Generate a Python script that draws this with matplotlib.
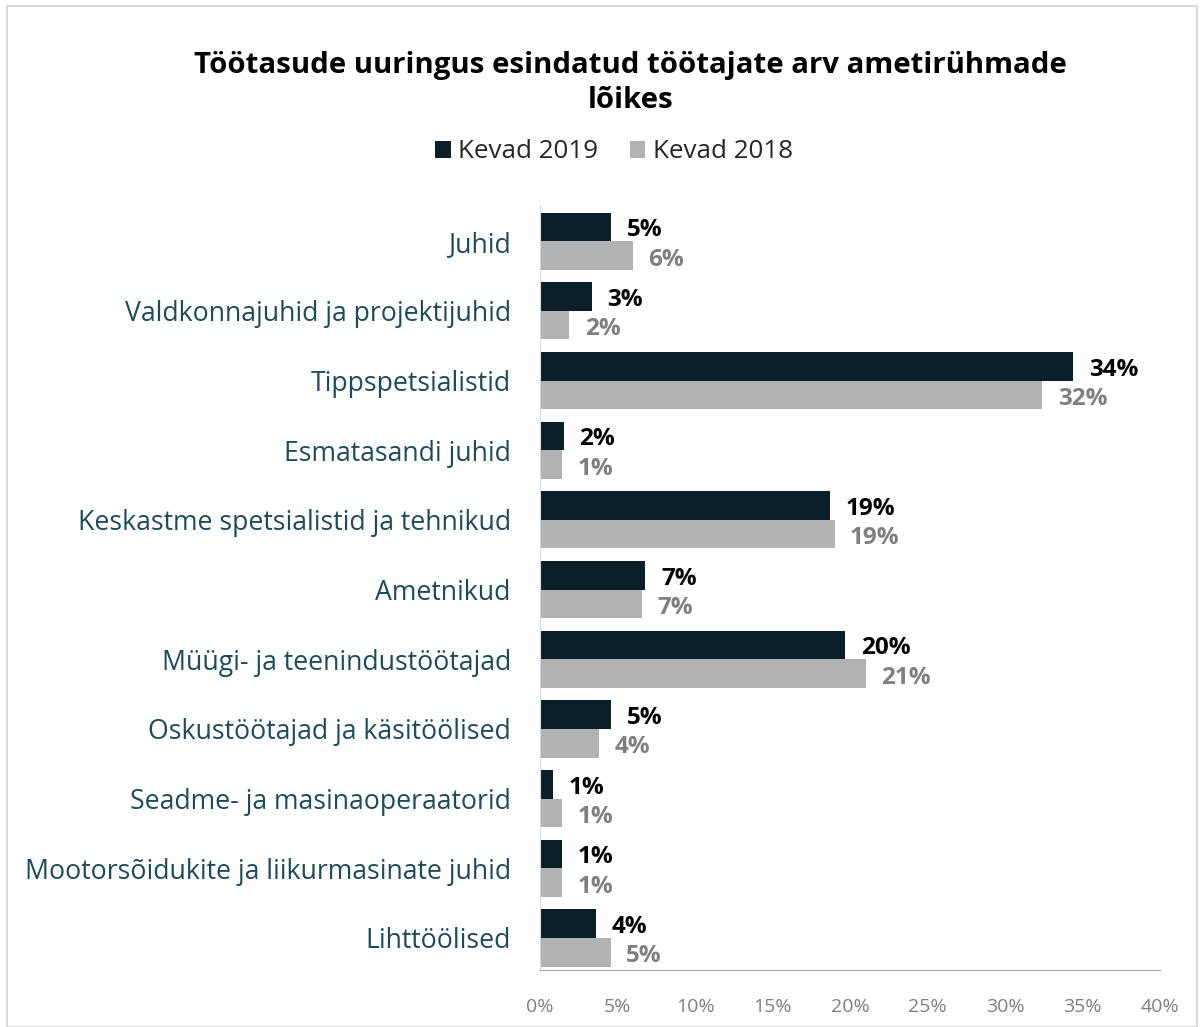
import matplotlib
matplotlib.use("Agg")
import matplotlib.pyplot as plt
from matplotlib.patches import Rectangle
from matplotlib.ticker import FuncFormatter
import numpy as np

plt.rcParams['font.family'] = ['Open Sans', 'DejaVu Sans']

categories = ["Juhid", "Valdkonnajuhid ja projektijuhid", "Tippspetsialistid",
              "Esmatasandi juhid", "Keskastme spetsialistid ja tehnikud", "Ametnikud",
              "Müügi- ja teenindustöötajad", "Oskustöötajad ja käsitöölised",
              "Seadme- ja masinaoperaatorid", "Mootorsõidukite ja liikurmasinate juhid",
              "Lihttöölised"]
v2019 = [4.6, 3.35, 34.4, 1.55, 18.7, 6.8, 19.7, 4.6, 0.84, 1.4, 3.6]
v2018 = [6.0, 1.9, 32.4, 1.4, 19.0, 6.6, 21.0, 3.8, 1.4, 1.4, 4.55]
lab2019 = ["5%", "3%", "34%", "2%", "19%", "7%", "20%", "5%", "1%", "1%", "4%"]
lab2018 = ["6%", "2%", "32%", "1%", "19%", "7%", "21%", "4%", "1%", "1%", "5%"]
xticks = [0, 5, 10, 15, 20, 25, 30, 35, 40]

c19 = "#0b1f2b"
c18 = "#b1b2b4"

fig = plt.figure(figsize=(12.03, 10.27), dpi=100)
fig.patches.append(Rectangle((7/1203, 0), 1190/1203, 1 - 6/1027, transform=fig.transFigure,
                             fill=False, edgecolor="#d9d9d9", linewidth=1.5))
ax = fig.add_axes([540/1203, 1 - 970/1027, 620/1203, 765/1027])

y = np.arange(len(categories))
h = 0.41
b1 = ax.barh(y - h/2, v2019, height=h, color=c19, label="Kevad 2019")
b2 = ax.barh(y + h/2, v2018, height=h, color=c18, label="Kevad 2018")

for yi, v, t in zip(y, v2019, lab2019):
    ax.text(v + 1.0, yi - h/2 + 0.05, t, va="center", ha="left", fontsize=17.5,
            fontweight="bold", color="#000000")
for yi, v, t in zip(y, v2018, lab2018):
    ax.text(v + 1.0, yi + h/2 + 0.06, t, va="center", ha="left", fontsize=17.5,
            fontweight="bold", color="#7f7f7f")

ax.set_xlim(0, 40)
ax.set_ylim(10.46, -0.52)
ax.set_yticks(y)
ax.set_yticklabels(categories, fontsize=19.2, color="#1d4b5e")
ax.set_xticks(xticks)
ax.xaxis.set_major_formatter(FuncFormatter(lambda v, p: f"{v:.0f}%"))
ax.tick_params(axis="x", length=0, labelsize=14, labelcolor="#7f7f7f", pad=20)
ax.tick_params(axis="y", length=0, pad=21)
for s in ["top", "right"]:
    ax.spines[s].set_visible(False)
ax.spines["left"].set_color("#d9d9d9")
ax.spines["bottom"].set_color("#a6a6a6")

fig.text(0.524, 1 - 83/1027, "Töötasude uuringus esindatud töötajate arv ametirühmade\nlõikes",
         ha="center", va="center", fontsize=21.2, fontweight="bold", linespacing=1.28,
         color="#000000")

leg = fig.legend(handles=[b1, b2], loc="center", bbox_to_anchor=(614/1203, 1 - 152/1027),
                 ncol=2, frameon=False, fontsize=18.7, handlelength=0.6, handleheight=0.6,
                 handletextpad=0.3, columnspacing=1.2)
for t in leg.get_texts():
    t.set_color("#262626")

fig.savefig("out.png", dpi=100)
